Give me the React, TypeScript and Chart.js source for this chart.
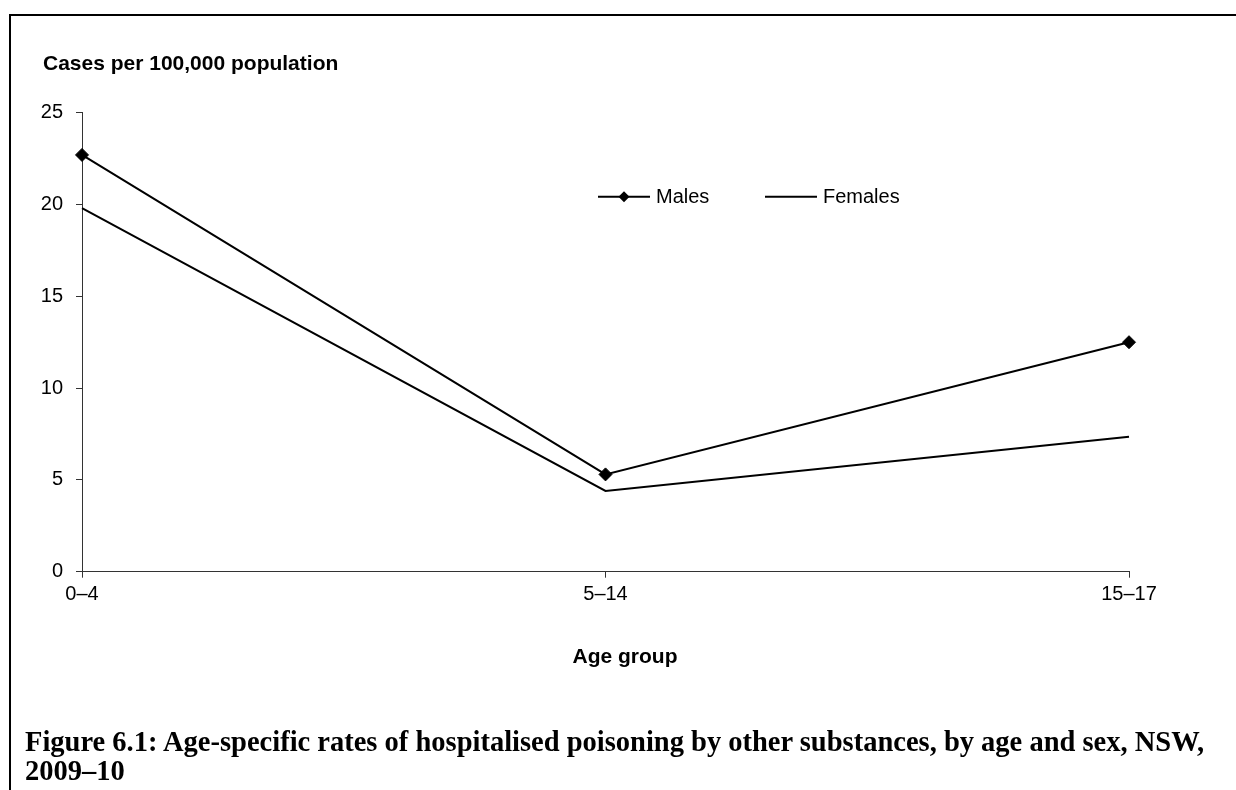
import React, { useEffect, useRef } from "react";
import { Chart, registerables } from "chart.js";

Chart.register(...registerables);

const categories = ["0–4", "5–14", "15–17"];
const malesValues = [22.7, 5.3, 12.5];
const femalesValues = [19.8, 4.4, 7.35];
const yMin = 0;
const yMax = 25;
const yStep = 5;
const seriesNames = ["Males", "Females"];

const SANS = "'Liberation Sans', Arial, sans-serif";
const SERIF = "'Liberation Serif', 'Times New Roman', serif";

const legendPlugin = {
  id: "customLegend",
  afterDraw(chart: any) {
    const ctx = chart.ctx;
    ctx.save();
    ctx.strokeStyle = "#000";
    ctx.fillStyle = "#000";
    ctx.lineWidth = 2;
    const y = 196.7;
    // Males swatch
    ctx.beginPath();
    ctx.moveTo(598, y);
    ctx.lineTo(650, y);
    ctx.stroke();
    const cx = 624, r = 5.5;
    ctx.beginPath();
    ctx.moveTo(cx - r, y);
    ctx.lineTo(cx, y - r);
    ctx.lineTo(cx + r, y);
    ctx.lineTo(cx, y + r);
    ctx.closePath();
    ctx.fill();
    // Females swatch
    ctx.beginPath();
    ctx.moveTo(765, y);
    ctx.lineTo(817, y);
    ctx.stroke();
    ctx.font = `20px ${SANS}`;
    ctx.textBaseline = "alphabetic";
    ctx.textAlign = "left";
    ctx.fillText(seriesNames[0], 656, 203);
    ctx.fillText(seriesNames[1], 823, 203);
    ctx.restore();
  },
};

export default function App() {
  const ref = useRef<HTMLCanvasElement>(null);
  useEffect(() => {
    document.body.style.margin = "0";
    const tickFont = { family: SANS, size: 20 };
    const chart = new Chart(ref.current as HTMLCanvasElement, {
      type: "line",
      data: {
        labels: categories,
        datasets: [
          {
            label: seriesNames[0],
            data: malesValues,
            borderColor: "#000",
            backgroundColor: "#000",
            borderWidth: 2,
            pointStyle: "rectRot",
            pointRadius: 6.5,
            pointBorderWidth: 1,
            pointBackgroundColor: "#000",
            pointBorderColor: "#000",
            tension: 0,
            clip: false as any,
          },
          {
            label: seriesNames[1],
            data: femalesValues,
            borderColor: "#000",
            backgroundColor: "#000",
            borderWidth: 2,
            pointRadius: 0,
            tension: 0,
            clip: false as any,
          },
        ],
      },
      options: {
        animation: false,
        responsive: false,
        devicePixelRatio: 1,
        events: [],
        layout: { padding: { left: 0, top: 112.7, right: 107, bottom: 118.3 } },
        plugins: {
          legend: { display: false },
          tooltip: { enabled: false },
          title: { display: false },
        },
        scales: {
          x: {
            type: "category",
            offset: false,
            grid: { drawOnChartArea: false, tickLength: 6, color: "#333", lineWidth: 1 },
            border: { color: "#333", width: 1 },
            ticks: { font: tickFont, color: "#000", padding: 5, maxRotation: 0, autoSkip: false },
            afterFit: (s: any) => {
              s.height = 100;
            },
          },
          y: {
            min: yMin,
            max: yMax,
            grid: { drawOnChartArea: false, tickLength: 6, color: "#333", lineWidth: 1 },
            border: { color: "#333", width: 1 },
            ticks: { stepSize: yStep, font: tickFont, color: "#000", padding: 13 },
            afterFit: (s: any) => {
              s.width = 82;
            },
          },
        },
      },
      plugins: [legendPlugin],
    } as any);
    return () => chart.destroy();
  }, []);

  return (
    <div
      style={{
        position: "fixed",
        left: 0,
        top: 0,
        width: 1236,
        height: 790,
        overflow: "hidden",
        background: "#fff",
      }}
    >
      <div
        style={{
          position: "absolute",
          left: 9,
          top: 14,
          width: 1300,
          height: 900,
          borderTop: "2px solid #000",
          borderLeft: "2px solid #000",
        }}
      />
      <canvas
        ref={ref}
        width={1236}
        height={790}
        style={{ position: "absolute", left: 0, top: 0, width: 1236, height: 790 }}
      />
      <div
        style={{
          position: "absolute",
          left: 43,
          top: 51,
          font: `bold 21px ${SANS}`,
          lineHeight: "24px",
          whiteSpace: "nowrap",
          color: "#000",
        }}
      >
        Cases per 100,000 population
      </div>
      <div
        style={{
          position: "absolute",
          left: 525,
          top: 644,
          width: 200,
          textAlign: "center",
          font: `bold 21px ${SANS}`,
          lineHeight: "24px",
          whiteSpace: "nowrap",
          color: "#000",
        }}
      >
        Age group
      </div>
      <div
        style={{
          position: "absolute",
          left: 25,
          top: 727,
          font: `bold 28.5px ${SERIF}`,
          lineHeight: "29px",
          whiteSpace: "nowrap",
          color: "#000",
        }}
      >
        Figure 6.1: Age-specific rates of hospitalised poisoning by other substances, by age and sex, NSW,
        <br />
        2009–10
      </div>
    </div>
  );
}
